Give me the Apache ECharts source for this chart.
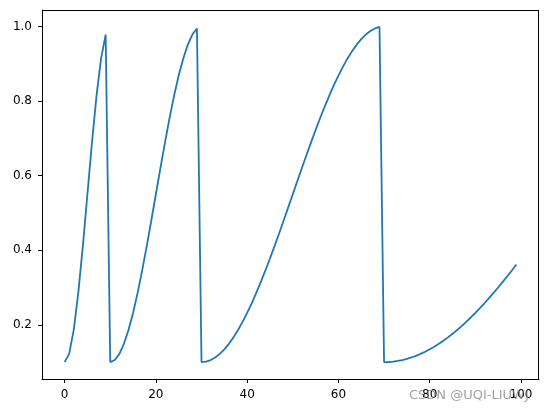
<!DOCTYPE html>
<html>
<head>
<meta charset="utf-8">
<script src="https://cdn.jsdelivr.net/npm/echarts@6/dist/echarts.min.js"></script>
<style>html,body{margin:0;padding:0;background:#fff}#c{width:547px;height:413px}</style>
</head>
<body>
<div id="c"></div>
<script>
const epochs = Array.from({length: 100}, (_, i) => i);
const lrValues = [
  0.1000, 0.1220, 0.1859, 0.2855, 0.4109, 0.5500, 0.6891, 0.8145, 0.9141, 0.9780,
  0.1000, 0.1055, 0.1220, 0.1490, 0.1859, 0.2318, 0.2855, 0.3457, 0.4109, 0.4796,
  0.5500, 0.6204, 0.6891, 0.7543, 0.8145, 0.8682, 0.9141, 0.9510, 0.9780, 0.9945,
  0.1000, 0.1014, 0.1055, 0.1124, 0.1220, 0.1343, 0.1490, 0.1663, 0.1859, 0.2078,
  0.2318, 0.2577, 0.2855, 0.3149, 0.3457, 0.3778, 0.4109, 0.4449, 0.4796, 0.5147,
  0.5500, 0.5853, 0.6204, 0.6551, 0.6891, 0.7222, 0.7543, 0.7851, 0.8145, 0.8423,
  0.8682, 0.8922, 0.9141, 0.9337, 0.9510, 0.9657, 0.9780, 0.9876, 0.9945, 0.9986,
  0.1000, 0.1003, 0.1014, 0.1031, 0.1055, 0.1086, 0.1124, 0.1169, 0.1220, 0.1278,
  0.1343, 0.1413, 0.1490, 0.1574, 0.1663, 0.1758, 0.1859, 0.1966, 0.2078, 0.2196,
  0.2318, 0.2445, 0.2577, 0.2714, 0.2855, 0.3000, 0.3149, 0.3301, 0.3457, 0.3616
];
const xTicks = [0, 20, 40, 60, 80, 100];
const yTicks = [0.2, 0.4, 0.6, 0.8, 1.0];
const watermark = 'CSDN @UQI-LIUWJ';

const chart = echarts.init(document.getElementById('c'), null, {renderer: 'canvas'});
const font = 'DejaVu Sans';
chart.setOption({
  animation: false,
  backgroundColor: '#fff',
  grid: {left: 42, top: 10, width: 497, height: 369, containLabel: false},
  xAxis: {
    type: 'value', min: -4.95, max: 103.95,
    splitLine: {show: false},
    axisLine: {show: true, onZero: false, lineStyle: {color: '#000', width: 1}},
    axisTick: {show: true, length: 4, customValues: xTicks, lineStyle: {color: '#000', width: 1}},
    axisLabel: {customValues: xTicks, color: '#000', fontFamily: font, fontSize: 12, margin: 10,
      formatter: v => String(v)}
  },
  yAxis: {
    type: 'value', min: 0.0547, max: 1.0439,
    splitLine: {show: false},
    axisLine: {show: true, onZero: false, lineStyle: {color: '#000', width: 1}},
    axisTick: {show: true, length: 4, customValues: yTicks, lineStyle: {color: '#000', width: 1}},
    axisLabel: {customValues: yTicks, color: '#000', fontFamily: font, fontSize: 12, margin: 10,
      formatter: v => v.toFixed(1)}
  },
  graphic: [
    {type: 'line', shape: {x1: 42, y1: 10.5, x2: 539, y2: 10.5}, style: {stroke: '#000', lineWidth: 1}, z: 10},
    {type: 'line', shape: {x1: 538.5, y1: 10, x2: 538.5, y2: 379}, style: {stroke: '#000', lineWidth: 1}, z: 10},
    {type: 'text', left: 409, top: 389, z: 20,
      style: {text: watermark, fontFamily: font, fontSize: 13, fill: 'rgba(128,128,128,0.75)'}}
  ],
  series: [{
    type: 'line',
    data: epochs.map((x, i) => [x, lrValues[i]]),
    showSymbol: false,
    smooth: false,
    lineStyle: {color: '#1f77b4', width: 1.8},
    itemStyle: {color: '#1f77b4'}
  }]
});
</script>
</body>
</html>
